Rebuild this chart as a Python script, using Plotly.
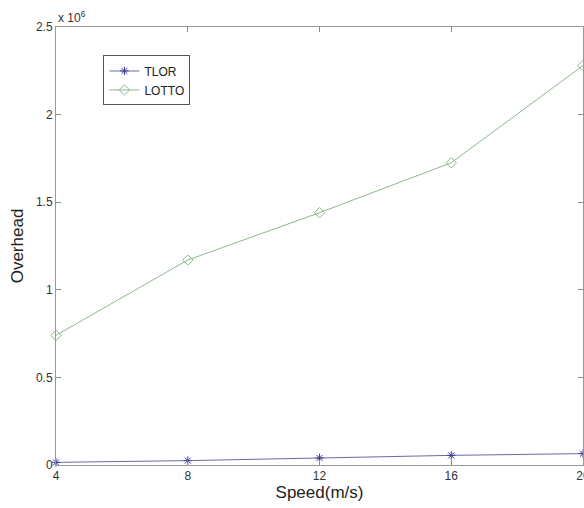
import plotly.graph_objects as go

speed = [4, 8, 12, 16, 20]
# Overhead values in units of 10^6
tlor = [0.015, 0.025, 0.04, 0.055, 0.065]
lotto = [0.74, 1.17, 1.44, 1.725, 2.28]
y_ticks = [0, 0.5, 1, 1.5, 2, 2.5]
y_tick_labels = ["0", "0.5", "1", "1.5", "2", "2.5"]
x_ticks = [4, 8, 12, 16, 20]

fig = go.Figure()
fig.add_trace(go.Scatter(
    x=speed, y=tlor, name="TLOR", mode="lines+markers",
    line=dict(color="#6a6aa8", width=1),
    marker=dict(symbol="asterisk-open", size=7, color="#3a3a90", line=dict(width=1, color="#3a3a90")),
    cliponaxis=False,
))
fig.add_trace(go.Scatter(
    x=speed, y=lotto, name="LOTTO", mode="lines+markers",
    line=dict(color="#8cb88c", width=1),
    marker=dict(symbol="diamond-open", size=8, color="#8cb88c", line=dict(width=1, color="#8cb88c")),
    cliponaxis=False,
))

axis_common = dict(
    showgrid=False, zeroline=False, showline=True, linecolor="#999999", linewidth=1,
    mirror="ticks", ticks="inside", ticklen=5, tickcolor="#888888",
    tickfont=dict(family="Liberation Sans, Arial", size=12, color="#333333"),
)

fig.update_layout(
    width=584, height=508,
    margin=dict(l=56, r=1, t=27, b=43),
    paper_bgcolor="white", plot_bgcolor="white",
    font=dict(family="Liberation Sans, Arial", color="#222222"),
    xaxis=dict(range=[4, 20], tickvals=x_ticks, automargin=False, ticklabeloverflow="allow",
               title=dict(text="Speed(m/s)", font=dict(size=17), standoff=2), **axis_common),
    yaxis=dict(range=[0, 2.5], tickvals=y_ticks, ticktext=y_tick_labels, automargin=False,
               title=dict(text="Overhead", font=dict(size=17), standoff=7), **axis_common),
    legend=dict(x=0.09, y=0.935, xanchor="left", yanchor="top",
                bgcolor="white", bordercolor="#555555", borderwidth=1,
                font=dict(family="Liberation Sans, Arial", size=12, color="#222222"),
                tracegroupgap=0, itemwidth=30),
    showlegend=True,
    annotations=[dict(text="x 10<sup>6</sup>", xref="paper", yref="paper", x=0.0, y=1.0,
                      xanchor="left", yanchor="bottom", showarrow=False,
                      font=dict(family="Liberation Sans, Arial", size=12, color="#333333"))],
)

fig.write_html("out.html", config={"displayModeBar": False},
               post_script="document.body.style.margin='0';document.body.style.overflow='hidden';")
